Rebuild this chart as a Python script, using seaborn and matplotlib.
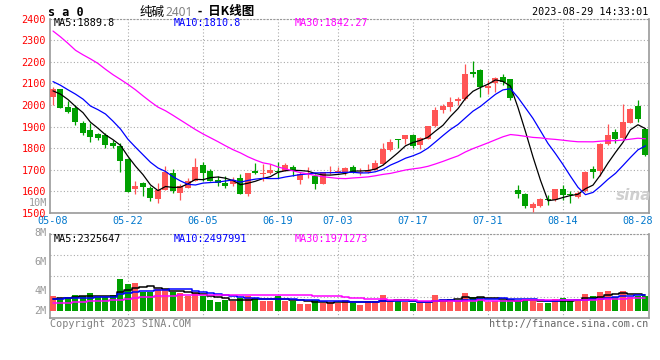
import seaborn as sns
import pandas as pd
import matplotlib.pyplot as plt
import numpy as np

# Daily bars of 纯碱2401, 2023-05-08 .. 2023-08-29
opens = [2036, 2074, 1992, 1986, 1917, 1882, 1864, 1861, 1826, 1812,
         1752, 1612, 1637, 1614, 1566, 1608, 1686, 1594, 1617, 1650,
         1723, 1693, 1653, 1640, 1635, 1661, 1589, 1693, 1681, 1684,
         1696, 1696, 1711, 1652, 1679, 1673, 1635, 1685, 1687, 1688,
         1711, 1687, 1688, 1699, 1727, 1791, 1841, 1841, 1861, 1814,
         1844, 1902, 1978, 1990, 2016, 2027, 2153, 2164, 2080, 2100,
         2130, 2118, 1605, 1590, 1524, 1531, 1563, 1559, 1612, 1589,
         1574, 1602, 1704, 1696, 1818, 1876, 1846, 1917, 1996, 1887]
highs = [2082, 2076, 2016, 1998, 1925, 1917, 1871, 1871, 1836, 1823,
         1756, 1647, 1643, 1624, 1640, 1716, 1704, 1632, 1661, 1754,
         1737, 1704, 1673, 1673, 1666, 1681, 1686, 1731, 1727, 1727,
         1734, 1731, 1722, 1690, 1711, 1681, 1690, 1716, 1711, 1711,
         1722, 1707, 1727, 1745, 1826, 1841, 1842, 1860, 1867, 1851,
         1904, 1989, 2004, 2035, 2035, 2191, 2203, 2168, 2116, 2128,
         2145, 2122, 1631, 1592, 1551, 1569, 1582, 1612, 1631, 1600,
         1602, 1696, 1719, 1826, 1913, 1887, 2004, 1985, 2024, 1889]
lows = [1998, 1986, 1965, 1906, 1861, 1830, 1836, 1803, 1803, 1688,
        1597, 1586, 1577, 1554, 1547, 1605, 1592, 1560, 1614, 1648,
        1650, 1646, 1623, 1617, 1627, 1586, 1580, 1681, 1647, 1681,
        1661, 1693, 1673, 1632, 1663, 1612, 1633, 1681, 1683, 1676,
        1685, 1676, 1686, 1697, 1722, 1788, 1800, 1821, 1803, 1795,
        1842, 1900, 1963, 1970, 2001, 2025, 2127, 2036, 2050, 2061,
        2093, 2024, 1571, 1524, 1505, 1529, 1536, 1557, 1562, 1548,
        1569, 1597, 1663, 1673, 1814, 1826, 1844, 1915, 1922, 1765]
closes = [2074, 1988, 1968, 1920, 1871, 1853, 1849, 1815, 1808, 1740,
          1597, 1624, 1618, 1571, 1608, 1692, 1603, 1623, 1650, 1711,
          1684, 1650, 1638, 1623, 1655, 1589, 1684, 1684, 1686, 1699,
          1688, 1722, 1693, 1680, 1684, 1635, 1688, 1690, 1696, 1707,
          1688, 1691, 1699, 1731, 1798, 1830, 1836, 1859, 1808, 1849,
          1902, 1978, 1993, 2013, 2027, 2141, 2142, 2081, 2089, 2126,
          2107, 2031, 1587, 1533, 1540, 1566, 1559, 1609, 1585, 1585,
          1594, 1689, 1692, 1821, 1859, 1841, 1922, 1983, 1937, 1768]
# volume in millions
volume = [2.32, 1.97, 2.09, 2.45, 2.33, 2.73, 2.09, 2.09, 2.38, 4.85,
          4.12, 4.24, 2.80, 2.80, 3.26, 3.33, 2.85, 2.65, 2.30, 2.65,
          2.32, 1.71, 1.39, 1.71, 1.44, 1.94, 2.20, 1.94, 1.55, 1.55,
          2.20, 1.55, 1.55, 1.09, 1.09, 1.67, 1.18, 1.36, 1.21, 1.71,
          1.21, 0.95, 1.47, 1.56, 2.38, 1.47, 1.47, 1.36, 1.21, 1.21,
          1.21, 2.38, 1.82, 1.82, 1.47, 2.73, 2.12, 2.12, 1.36, 1.56,
          1.71, 1.71, 1.56, 1.71, 1.56, 1.21, 1.21, 1.82, 1.97, 1.56,
          1.62, 2.58, 2.32, 2.88, 3.08, 2.08, 3.08, 2.08, 2.32, 2.32]

# moving averages before the chart has enough bars
ma5_head = [2065, 2050, 2025, 1993]
ma10_head = [2108, 2091, 2070, 2050, 2027, 1995, 1978, 1958, 1925]
ma30_head = [2342, 2315, 2285, 2253, 2232, 2213, 2192, 2165, 2140, 2118,
             2095, 2070, 2042, 2015, 1990, 1973, 1952, 1930, 1908, 1886,
             1866, 1848, 1830, 1811, 1793, 1778, 1760, 1745, 1732]
vma5_head = [1.85, 1.9, 2.0, 2.1]
vma10_head = [1.85, 1.87, 1.9, 1.92, 1.95, 2.0, 2.05, 2.1, 2.15]
vma30_head = [1.2, 1.2, 1.25, 1.3, 1.4, 1.45, 1.5, 1.55, 1.6, 1.7,
              1.85, 2.0, 2.05, 2.1, 2.2, 2.25, 2.3, 2.35, 2.38, 2.4,
              2.4, 2.4, 2.4, 2.42, 2.42, 2.44, 2.44, 2.45, 2.46]

tick_labels = ["05-08", "05-22", "06-05", "06-19", "07-03",
               "07-17", "07-31", "08-14", "08-28"]
price_ticks = list(range(1500, 2401, 100))

RED = "#ff5555"
GREEN = "#00a000"
GRID = "#aaaaaa"
EDGE = "#999999"

# trading days (Dragon Boat holiday 06-22/06-23 closed)
days = pd.bdate_range("2023-05-08", "2023-08-29")
days = days.drop(pd.to_datetime(["2023-06-22", "2023-06-23"]))
tick_pos = [days.get_loc(pd.Timestamp("2023-" + t)) for t in tick_labels]


def moving(values, n, head):
    s = pd.Series(values, dtype=float).rolling(n).mean()
    s.iloc[:n - 1] = head
    return s


df = pd.DataFrame({"i": np.arange(len(days)), "open": opens, "high": highs,
                   "low": lows, "close": closes, "vol": volume})
df["ma5"] = moving(closes, 5, ma5_head)
df["ma10"] = moving(closes, 10, ma10_head)
df["ma30"] = moving(closes, 30, ma30_head)
df["vma5"] = moving(volume, 5, vma5_head)
df["vma10"] = moving(volume, 10, vma10_head)
df["vma30"] = moving(volume, 30, vma30_head)
colors = np.where(df["close"] >= df["open"], RED, GREEN)

sns.set_theme(style="white")
plt.rcParams["font.family"] = ["DejaVu Sans Mono", "Noto Sans CJK SC"]

W, H = 660, 360
fig = plt.figure(figsize=(6.6, 3.6), dpi=100)
ax = fig.add_axes([50 / W, 147 / H, 599 / W, 194.5 / H])
axv = fig.add_axes([50 / W, 42.3 / H, 599 / W, 83.4 / H])


def fx(px):
    return px / W


def fy(py):
    return 1 - py / H


# candles
ax.vlines(df["i"], df["low"], df["high"], colors=colors, lw=0.9, zorder=3)
body_lo = np.minimum(df["open"], df["close"])
body_h = np.maximum((df["close"] - df["open"]).abs(), 3)
ax.bar(df["i"], body_h, bottom=body_lo, width=0.8, color=colors, linewidth=0, zorder=3)

sns.lineplot(data=df, x="i", y="ma5", color="black", lw=0.9, ax=ax, zorder=4)
sns.lineplot(data=df, x="i", y="ma10", color="#0000ff", lw=0.9, ax=ax, zorder=4)
sns.lineplot(data=df, x="i", y="ma30", color="#ff00ff", lw=0.9, ax=ax, zorder=4)

# volume
axv.bar(df["i"], df["vol"], width=0.8, color=colors, linewidth=0, zorder=3)
sns.lineplot(data=df, x="i", y="vma5", color="black", lw=1.1, ax=axv,
             drawstyle="steps-mid", zorder=4)
sns.lineplot(data=df, x="i", y="vma10", color="#0000ff", lw=1.1, ax=axv,
             drawstyle="steps-mid", zorder=4)
sns.lineplot(data=df, x="i", y="vma30", color="#ff00ff", lw=1.1, ax=axv,
             drawstyle="steps-mid", zorder=4)

dot = (0, (1, 2))
for a in (ax, axv):
    a.set_xlim(-0.4, 79.47)
    a.set_xlabel("")
    a.set_ylabel("")
    for side in ("left", "right", "bottom", "top"):
        a.spines[side].set_color(EDGE)
        a.spines[side].set_linewidth(1.2)
    a.spines["top"].set_linestyle(dot)
    a.spines["top"].set_linewidth(0.8)
    for p in tick_pos[1:-1]:
        a.axvline(p, color=GRID, lw=0.8, ls=dot, zorder=1)

ax.set_ylim(1500, 2400)
ax.set_yticks(price_ticks)
ax.set_yticklabels([str(v) for v in price_ticks])
ax.grid(axis="y", color=GRID, lw=0.8, ls=dot)
ax.grid(axis="x", visible=False)
ax.set_xticks(tick_pos)
ax.set_xticklabels(tick_labels)
ax.tick_params(axis="y", length=0, pad=3, labelsize=7.3, labelcolor="#ff0000")
ax.tick_params(axis="x", length=0, pad=2.4, labelsize=7.3, labelcolor="#0077cc")

vmin, vmax = -1.02, 11.62
axv.set_ylim(vmin, vmax)
axv.set_yticks(np.linspace(vmin, vmax, 5))
axv.set_yticklabels([])
axv.set_xticks([])
axv.grid(axis="y", color=GRID, lw=0.8, ls=dot)
axv.grid(axis="x", visible=False)
axv.tick_params(length=0)

# volume axis labels (placed as on the original)
for lab, py in [("10M", 202), ("8M", 231.5), ("6M", 261), ("4M", 290), ("2M", 310)]:
    fig.text(fx(46.7), fy(py), lab, ha="right", va="center_baseline", fontsize=7.3, color="#999999")

# header
fig.text(fx(48), fy(12), "s a 0", ha="left", va="center", fontsize=8.5, fontweight="bold", color="black")
t1 = fig.text(fx(140), fy(12), "纯碱", ha="left", va="center", fontsize=9,
              family=["Noto Sans CJK SC"], color="black")
t2 = ax.annotate("2401", xy=(1, 0.5), xycoords=t1, va="center", ha="left", fontsize=8.5,
                 family=["Noto Sans"], color="#808080", annotation_clip=False)
ax.annotate("  -  日K线图", xy=(1, 0.5), xycoords=t2, va="center", ha="left", fontsize=9,
            family=["Noto Sans CJK SC"], fontweight="bold", color="black", annotation_clip=False)
fig.text(fx(648), fy(12), "2023-08-29 14:33:01", ha="right", va="center", fontsize=7.3, color="black")

# MA legends
fig.text(fx(54), fy(23.5), "MA5:1889.8", fontsize=7.3, va="center", color="black")
fig.text(fx(174), fy(23.5), "MA10:1810.8", fontsize=7.3, va="center", color="#0000ff")
fig.text(fx(295), fy(23.5), "MA30:1842.27", fontsize=7.3, va="center", color="#ff00ff")
fig.text(fx(54), fy(238.5), "MA5:2325647", fontsize=7.3, va="center", color="black")
fig.text(fx(174), fy(238.5), "MA10:2497991", fontsize=7.3, va="center", color="#0000ff")
fig.text(fx(295), fy(238.5), "MA30:1971273", fontsize=7.3, va="center", color="#ff00ff")

# footer and watermark
fig.text(fx(50), fy(324), "Copyright 2023 SINA.COM", fontsize=7.3, va="center", color="#808080")
fig.text(fx(648), fy(324), "http://finance.sina.com.cn", fontsize=7.3, va="center",
         ha="right", color="#666666")
fig.text(fx(634), fy(196), "sina", fontsize=11, fontstyle="italic", fontweight="bold",
         family=["DejaVu Sans"], ha="center", va="center", color="#cfcfcf")

fig.savefig("out.png", dpi=100, facecolor="white")
